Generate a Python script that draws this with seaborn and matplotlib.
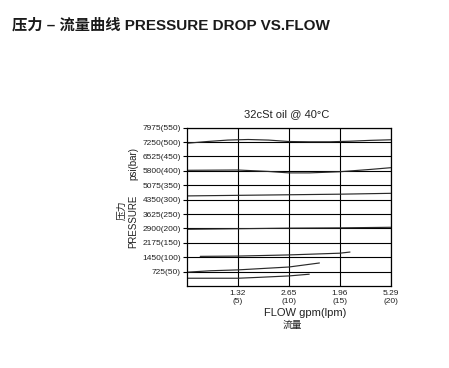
import matplotlib
matplotlib.use("Agg")
import matplotlib.pyplot as plt
import seaborn as sns
import pandas as pd

# ---- data (flow in lpm, pressure in bar) ----
c1_flow = [0, 2, 4, 6, 8, 10, 12, 14, 16, 18, 20]
c1_p    = [496, 502, 507, 509, 507, 502, 501, 501, 503, 506, 508]
c2_flow = [0, 5, 8, 10, 12, 15, 18, 20]
c2_p    = [402, 403, 398, 393, 393, 397, 405, 411]
c3_flow = [0, 5, 10, 15, 20]
c3_p    = [313, 315, 317, 319, 322]
c4_flow = [0, 5, 10, 15, 20]
c4_p    = [197, 199, 201, 202, 204]
c5_flow = [1.3, 5, 10, 15, 16]
c5_p    = [103, 104, 108, 114, 118]
c6_flow = [0, 2.3, 5, 10, 13]
c6_p    = [48, 53, 56, 66, 80]
c7_flow = [0, 5, 7, 10, 12]
c7_p    = [27, 27, 30, 35, 41]

y_ticks = [50, 100, 150, 200, 250, 300, 350, 400, 450, 500, 550]
y_labels = ["725(50)", "1450(100)", "2175(150)", "2900(200)", "3625(250)",
            "4350(300)", "5075(350)", "5800(400)", "6525(450)", "7250(500)",
            "7975(550)"]
x_ticks = [5, 10, 15, 20]
x_labels = ["1.32\n(5)", "2.65\n(10)", "1.96\n(15)", "5.29\n(20)"]

curves = [(c1_flow, c1_p), (c2_flow, c2_p), (c3_flow, c3_p), (c4_flow, c4_p),
          (c5_flow, c5_p), (c6_flow, c6_p), (c7_flow, c7_p)]
rows = []
for i, (fx_, py) in enumerate(curves):
    for a, b in zip(fx_, py):
        rows.append({"curve": i, "flow": a, "pressure": b})
df = pd.DataFrame(rows)

sns.set_style("white")
plt.rcParams["font.family"] = ["Liberation Sans", "Noto Sans CJK SC", "DejaVu Sans"]

fig = plt.figure(figsize=(4.49, 3.68), dpi=100)
ax = fig.add_axes([0.4165, 0.2228, 0.4537, 0.4302])

sns.lineplot(data=df, x="flow", y="pressure", units="curve", estimator=None,
             sort=False, color="#2a2a2a", lw=0.85, ax=ax, legend=False)

ax.set_xlim(0, 20)
ax.set_ylim(0, 550)
ax.set_yticks(y_ticks)
ax.set_yticklabels(y_labels, fontsize=6, color="#222222")
ax.set_xticks(x_ticks)
ax.set_xticklabels(x_labels, fontsize=6, color="#222222", linespacing=1.2)
ax.tick_params(axis="y", length=3, width=0.8, pad=1.5, color="black", left=True)
ax.tick_params(axis="x", length=0, pad=3)
ax.grid(True, color="black", lw=0.8)
ax.set_axisbelow(True)
for s in ax.spines.values():
    s.set_color("black")
    s.set_linewidth(0.9)
ax.set_xlabel("")
ax.set_ylabel("")

W, H = 449, 368
def fx(x): return x / W
def fy(y): return 1 - y / H

fig.text(fx(12), fy(25), "压力 – 流量曲线 PRESSURE DROP VS.FLOW", ha="left", va="center",
         fontsize=11, fontweight="bold", color="#1a1a1a")
fig.text(fx(287), fy(114), "32cSt oil @ 40°C", ha="center", va="center",
         fontsize=8, color="#222222")
fig.text(fx(305), fy(313), "FLOW gpm(lpm)", ha="center", va="center",
         fontsize=8, color="#222222")
fig.text(fx(292.5), fy(324.5), "流量", ha="center", va="center",
         fontsize=7, color="#222222")
fig.text(fx(133), fy(221), "PRESSURE", ha="center", va="center", rotation=90,
         fontsize=7, color="#222222")
fig.text(fx(133), fy(164), "psi(bar)", ha="center", va="center", rotation=90,
         fontsize=7, color="#222222")
fig.text(fx(121), fy(210), "压力", ha="center", va="center", rotation=90,
         fontsize=7, color="#222222")

fig.savefig("out.png", dpi=100)
